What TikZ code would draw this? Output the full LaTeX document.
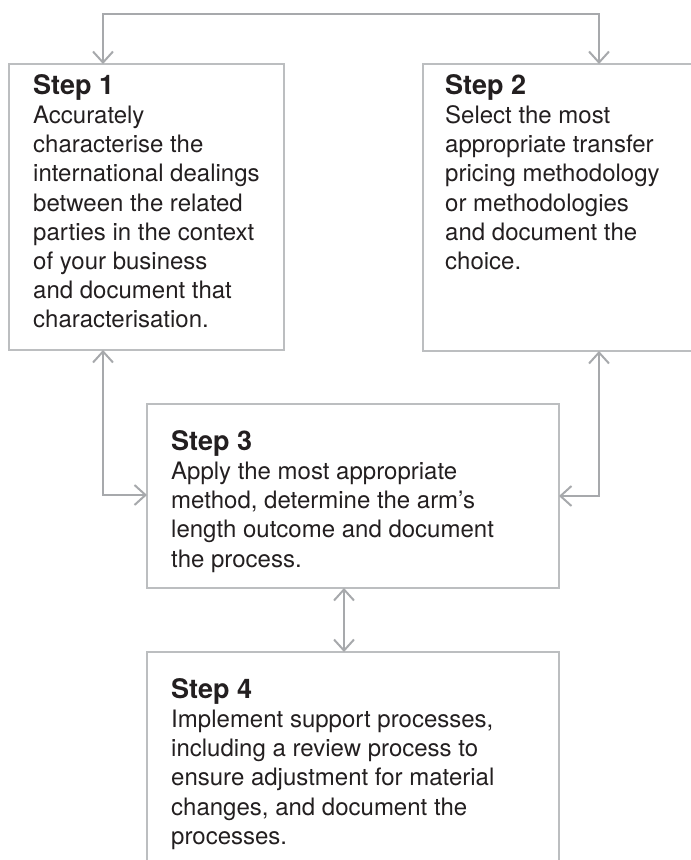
\documentclass[tikz,border=0pt]{standalone}
\usepackage{fontspec}
\setmainfont{TeX Gyre Heros}
\usetikzlibrary{arrows.meta,positioning}
\definecolor{linegray}{HTML}{A7A9AC}
\definecolor{boxgray}{HTML}{BCBEC0}
\definecolor{textdark}{HTML}{231F20}
\newcommand{\stephead}[1]{{\fontsize{27}{29.2}\selectfont\bfseries #1}}

\begin{document}
\begin{tikzpicture}[x=1pt,y=-1pt,
    stepbox/.style={draw=boxgray, line width=1.4pt, inner sep=0pt, outer sep=0pt, anchor=north west},
    steptext/.style={anchor=north west, inner sep=0pt, align=left, text=textdark, font=\fontsize{24}{29.2}\selectfont},
    link/.style={draw=linegray, line width=2pt, {Straight Barb[length=11pt,width=20pt]}-{Straight Barb[length=11pt,width=20pt]}}]
    \useasboundingbox (0,0) rectangle (691,860);
    \clip (0,0) rectangle (691,860);
    % boxes
    \node[stepbox, minimum width=275pt, minimum height=286pt] (b1) at (9,64) {};
    \node[stepbox, minimum width=300pt, minimum height=287pt] (b2) at (423,64) {};
    \node[stepbox, minimum width=412pt, minimum height=184pt] (b3) at (147,404) {};
    \node[stepbox, minimum width=412pt, minimum height=240pt] (b4) at (147,652) {};
    % texts
    \node[steptext] (t1) at ([shift={(24,10)}]b1.north west) {\stephead{Step 1}\\Accurately\\characterise the\\international dealings\\between the related\\parties in the context\\of your business\\and document that\\characterisation.};
    \node[steptext] (t2) at ([shift={(22,10)}]b2.north west) {\stephead{Step 2}\\Select the most\\appropriate transfer\\pricing methodology\\or methodologies\\and document the\\choice.};
    \node[steptext] (t3) at ([shift={(24,26)}]b3.north west) {\stephead{Step 3}\\Apply the most appropriate\\method, determine the arm’s\\length outcome and document\\the process.};
    \node[steptext] (t4) at ([shift={(24,26)}]b4.north west) {\stephead{Step 4}\\Implement support processes,\\including a review process to\\ensure adjustment for material\\changes, and document the\\processes.};
    % connectors
    \coordinate (top1) at (103,14);
    \coordinate (top2) at (599,14);
    \coordinate (c13) at (103,495);
    \coordinate (c23) at (599,496);
    \coordinate (c34) at (344,600);
    \draw[link] (b1.north -| top1) -- (top1) -- (top2) -- (b2.north -| top2);
    \draw[link] (b1.south -| c13) -- (c13) -- (c13 -| b3.west);
    \draw[link] (b2.south -| c23) -- (c23) -- (c23 -| b3.east);
    \draw[link] (b3.south -| c34) -- (b4.north -| c34);
\end{tikzpicture}
\end{document}
